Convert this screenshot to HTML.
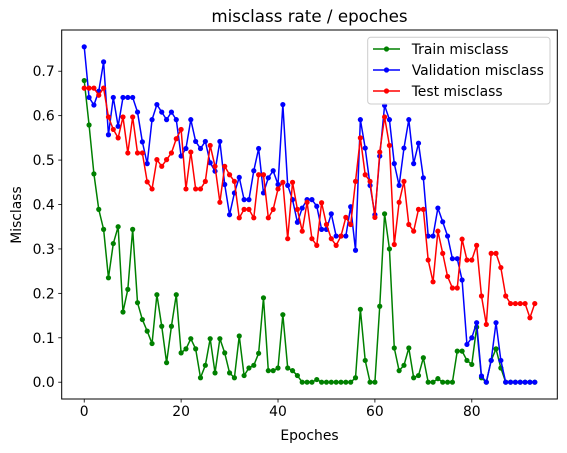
<!DOCTYPE html>
<html><head><meta charset="utf-8"><style>
html,body{margin:0;padding:0;background:#fff;}
svg{display:block;font-family:"DejaVu Sans","Liberation Sans",sans-serif;}
</style></head><body>
<svg id="chart" width="567" height="453" viewBox="0 0 567 453" xmlns="http://www.w3.org/2000/svg">
<rect x="0" y="0" width="567" height="453" fill="#fff"/>
<text x="309.5" y="22" font-size="16.7" text-anchor="middle" fill="#000">misclass rate / epoches</text>
<g id="ticks"></g>
<g id="series"></g>
<rect x="61.7" y="30" width="495.6" height="369" fill="none" stroke="#000" stroke-width="1"/>
<text x="309.5" y="440" font-size="13.9" text-anchor="middle">Epoches</text>
<text x="0" y="0" font-size="13.9" text-anchor="middle" transform="translate(21,215) rotate(-90)">Misclass</text>
<g>
<rect x="367.7" y="37.3" width="182.3" height="66.7" rx="3" fill="#fff" fill-opacity="0.8" stroke="#ccc" stroke-width="1"/>
<g><line x1="373" y1="49" x2="400" y2="49" stroke="green" stroke-width="1.5"/><circle cx="386.5" cy="49" r="2.6" fill="green"/><text x="411.7" y="54" font-size="13.9">Train misclass</text></g>
<g><line x1="373" y1="70" x2="400" y2="70" stroke="blue" stroke-width="1.5"/><circle cx="386.5" cy="70" r="2.6" fill="blue"/><text x="411.7" y="75" font-size="13.9">Validation misclass</text></g>
<g><line x1="373" y1="91" x2="400" y2="91" stroke="red" stroke-width="1.5"/><circle cx="386.5" cy="91" r="2.6" fill="red"/><text x="411.7" y="96" font-size="13.9">Test misclass</text></g>
</g>
</svg>
<script>
const xTicks = [0, 20, 40, 60, 80];
const yTicks = [0.0, 0.1, 0.2, 0.3, 0.4, 0.5, 0.6, 0.7];
const trainMisclass = [.679,.579,.469,.389,.344,.235,.312,.350,.158,.209,.344,.179,.141,.115,.087,.197,.126,.044,.126,.197,.066,.075,.098,.075,.010,.038,.098,.021,.098,.066,.021,.010,.104,.015,.032,.038,.065,.190,.026,.026,.032,.152,.032,.026,.015,0,0,0,.006,0,0,0,0,0,0,0,.010,.164,.049,0,0,.171,.379,.300,.077,.026,.038,.077,.010,.015,.055,0,0,.008,0,0,0,.070,.070,.049,.040,.124,.010,0,.049,.075,.032,0,0,0,0,0,0,0];
const validationMisclass = [.755,.641,.624,.655,.721,.557,.641,.576,.641,.641,.641,.608,.541,.492,.591,.625,.608,.591,.608,.591,.509,.526,.591,.542,.526,.542,.494,.475,.542,.445,.377,.426,.461,.411,.411,.476,.526,.426,.460,.476,.445,.625,.443,.411,.360,.392,.411,.411,.396,.344,.344,.379,.329,.329,.329,.395,.297,.591,.527,.443,.377,.509,.623,.591,.492,.443,.527,.591,.492,.538,.460,.329,.329,.392,.361,.329,.278,.278,.230,.085,.100,.134,.014,0,.049,.134,.049,0,0,0,0,0,0,0];
const testMisclass = [.662,.662,.662,.646,.662,.597,.569,.550,.597,.516,.597,.516,.516,.451,.435,.501,.486,.501,.516,.548,.569,.435,.518,.435,.435,.452,.533,.486,.405,.486,.467,.452,.370,.389,.389,.370,.467,.467,.370,.389,.435,.450,.323,.450,.389,.340,.405,.323,.308,.404,.355,.323,.308,.329,.371,.355,.452,.550,.467,.452,.371,.518,.597,.533,.310,.405,.452,.355,.340,.389,.389,.275,.226,.340,.290,.238,.212,.212,.322,.275,.275,.308,.194,.130,.290,.290,.258,.194,.177,.177,.177,.177,.145,.177];

const NS = 'http://www.w3.org/2000/svg';
const L = 61.7, R = 557.3, T = 30, B = 399;
const xMin = -4.65, xMax = 97.65, yMin = -0.0378, yMax = 0.7928;
function xs(v){ return L + (v - xMin) / (xMax - xMin) * (R - L); }
function ys(v){ return B - (v - yMin) / (yMax - yMin) * (B - T); }
function mk(tag, attrs){ const e = document.createElementNS(NS, tag); for (const k in attrs) e.setAttribute(k, attrs[k]); return e; }

const tg = document.getElementById('ticks');
xTicks.forEach(t => {
  const ln = mk('line', {x1: xs(t), x2: xs(t), y1: B, y2: B + 3.5, stroke: '#000', 'stroke-width': 0.8});
  
  
  tg.appendChild(ln);
  const tx = mk('text', {x: xs(t), y: B + 17, 'font-size': 13.9, 'text-anchor': 'middle'});
  tx.textContent = String(t);
  
  
  tg.appendChild(tx);
});
yTicks.forEach(t => {
  const ln = mk('line', {x1: L - 3.5, x2: L, y1: ys(t), y2: ys(t), stroke: '#000', 'stroke-width': 0.8});
  
  
  tg.appendChild(ln);
  const tx = mk('text', {x: L - 7, y: ys(t) + 5, 'font-size': 13.9, 'text-anchor': 'end'});
  tx.textContent = t.toFixed(1);
  
  
  tg.appendChild(tx);
});

const sg = document.getElementById('series');
[[trainMisclass, 'green', 'train'], [validationMisclass, 'blue', 'validation'], [testMisclass, 'red', 'test']].forEach(([data, color, name]) => {
  const g = mk('g', {});
  
  
  const pts = data.map((v, i) => xs(i).toFixed(2) + ',' + ys(v).toFixed(2)).join(' ');
  const pl = mk('polyline', {points: pts, fill: 'none', stroke: color, 'stroke-width': 1.5, 'stroke-linejoin': 'round'});
  
  
  g.appendChild(pl);
  data.forEach((v, i) => {
    const c = mk('circle', {cx: xs(i), cy: ys(v), r: 2.6, fill: color});
    
    
    g.appendChild(c);
  });
  sg.appendChild(g);
});
</script>
</body></html>
